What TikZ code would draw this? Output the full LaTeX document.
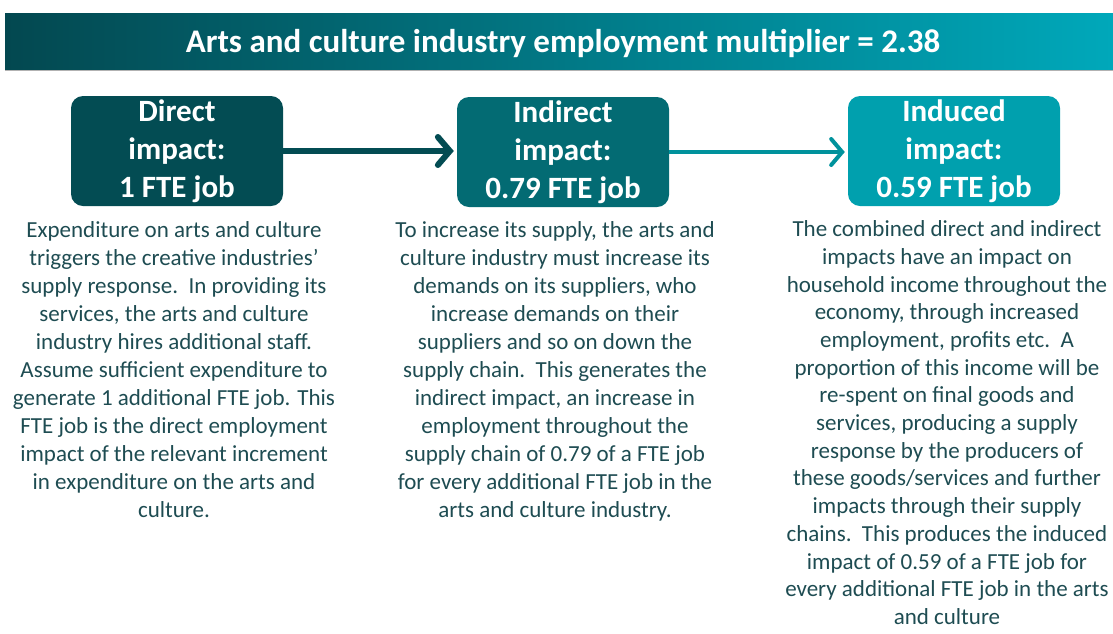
\documentclass[tikz,border=0pt]{standalone}
\usepackage{fontspec}
\setmainfont{Carlito}
\usetikzlibrary{arrows.meta}
\definecolor{tdark}{RGB}{3,76,83}
\definecolor{tmid}{RGB}{3,107,115}
\definecolor{tlight}{RGB}{0,160,174}
\definecolor{tgradL}{RGB}{3,72,80}
\definecolor{tgradR}{RGB}{0,168,186}
\definecolor{txt}{RGB}{30,76,82}
\definecolor{arr2}{RGB}{0,146,156}
\tikzset{
  impactbox/.style={rounded corners=12pt, minimum width=212pt, minimum height=110pt,
     inner sep=0pt, text=white, align=center,
     font=\fontsize{31}{38}\selectfont\bfseries},
  desc/.style={anchor=north, inner sep=0pt, align=center, text=txt,
     font=\fontsize{23}{28}\selectfont},
}
\begin{document}
\begin{tikzpicture}[x=1pt,y=-1pt]
\useasboundingbox (0,0) rectangle (1113,633);
\fill[left color=tgradL, right color=tgradR] (5,13) rectangle (1113,70);
\draw[gray!60, line width=1pt] (5,70) -- (1113,70);
\node[text=white, font=\fontsize{33}{36}\selectfont\bfseries] (title) at (563,43) {Arts and culture industry employment multiplier = 2.38};

\node[impactbox, fill=tdark] (d) at (177,151) {Direct\\impact:\\1 FTE job};
\node[impactbox, fill=tmid] (i) at (563,152) {Indirect\\impact:\\0.79 FTE job};
\node[impactbox, fill=tlight] (n) at (954,151) {Induced\\impact:\\0.59 FTE job};

\draw[tdark, line width=6pt, -{Straight Barb[length=12pt, width=28pt, line width=6pt, line cap=round]}] (d.east) -- ([xshift=-3pt]d.east -| i.west);
\draw[arr2, line width=4pt, -{Straight Barb[length=11pt, width=26pt, line width=4pt, line cap=round]}] (i.east) -- ([xshift=-3pt]i.east -| n.west);

\node[desc] (t1) at (174,218) {\strut Expenditure on arts and culture\\triggers the creative industries’\\supply response.\ \ In providing its\\services, the arts and culture\\industry hires additional staff.\\Assume sufficient expenditure to\\generate 1 additional FTE job. This\\FTE job is the direct employment\\impact of the relevant increment\\in expenditure on the arts and\\culture.};
\node[desc] (t2) at (555,218) {\strut To increase its supply, the arts and\\culture industry must increase its\\demands on its suppliers, who\\increase demands on their\\suppliers and so on down the\\supply chain.\ \ This generates the\\indirect impact, an increase in\\employment throughout the\\supply chain of 0.79 of a FTE job\\for every additional FTE job in the\\arts and culture industry.};
\node[desc, font=\fontsize{23}{27.7}\selectfont] (t3) at (947,217) {\strut The combined direct and indirect\\impacts have an impact on\\household income throughout the\\economy, through increased\\employment, profits etc.\ \ A\\proportion of this income will be\\re-spent on final goods and\\services, producing a supply\\response by the producers of\\these goods/services and further\\impacts through their supply\\chains.\ \ This produces the induced\\impact of 0.59 of a FTE job for\\every additional FTE job in the arts\\and culture};
\end{tikzpicture}
\end{document}
